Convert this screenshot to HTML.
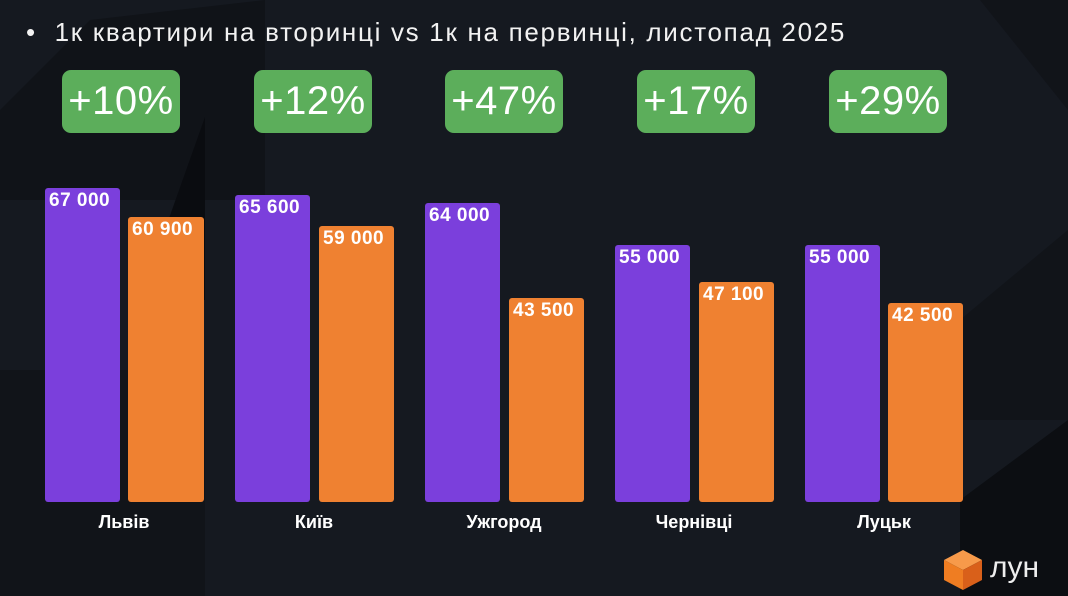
<!DOCTYPE html>
<html><head><meta charset="utf-8"><style>
body{margin:0;width:1068px;height:596px;overflow:hidden;background:#151920;font-family:"Liberation Sans","DejaVu Sans",sans-serif;position:relative}
.a{position:absolute}
.t{left:26px;top:17px;color:#f2f2f2;font-size:26px;letter-spacing:1.7px;white-space:nowrap}
.b{background:#5cae5b;border-radius:9px;color:#fff;font-size:40px;text-align:center;line-height:63px;height:63px;width:118px;top:70px;letter-spacing:0.5px}
.p{background:#7b3fdc;border-radius:3px}
.o{background:#ef8131;border-radius:3px}
.v{color:#fff;font-weight:bold;font-size:19px;letter-spacing:0.5px;padding:2px 0 0 4px;white-space:nowrap;box-sizing:border-box}
.l{color:#fff;font-weight:bold;font-size:18px;top:512px;width:160px;text-align:center}
</style></head><body>
<svg class="a" style="left:0;top:0" width="1068" height="596">
<polygon points="0,110 90,20 265,0 265,200 0,200" fill="#101318"/>
<polygon points="0,370 205,370 205,596 0,596" fill="#111419"/>
<polygon points="140,300 205,117 205,300" fill="#0a0c10"/>
<polygon points="980,0 1068,0 1068,110" fill="#111419"/>
<polygon points="960,320 1068,230 1068,420 960,420" fill="#111419"/>
<polygon points="960,500 1068,420 1068,596 960,596" fill="#0c0e12"/>
</svg>
<div class="a t">•&nbsp; 1к квартири на вторинці vs 1к на первинці, листопад 2025</div>
<div class="a b" style="left:62px">+10%</div>
<div class="a b" style="left:254px">+12%</div>
<div class="a b" style="left:445px">+47%</div>
<div class="a b" style="left:637px">+17%</div>
<div class="a b" style="left:829px">+29%</div>

<div class="a p v" style="left:45px;top:188px;width:75px;height:314px">67 000</div>
<div class="a o v" style="left:128px;top:217px;width:76px;height:285px">60 900</div>
<div class="a p v" style="left:235px;top:195px;width:75px;height:307px">65 600</div>
<div class="a o v" style="left:319px;top:226px;width:75px;height:276px">59 000</div>
<div class="a p v" style="left:425px;top:203px;width:75px;height:299px">64 000</div>
<div class="a o v" style="left:509px;top:298px;width:75px;height:204px">43 500</div>
<div class="a p v" style="left:615px;top:245px;width:75px;height:257px">55 000</div>
<div class="a o v" style="left:699px;top:282px;width:75px;height:220px">47 100</div>
<div class="a p v" style="left:805px;top:245px;width:75px;height:257px">55 000</div>
<div class="a o v" style="left:888px;top:303px;width:75px;height:199px">42 500</div>

<div class="a l" style="left:44px">Львів</div>
<div class="a l" style="left:234px">Київ</div>
<div class="a l" style="left:424px">Ужгород</div>
<div class="a l" style="left:614px">Чернівці</div>
<div class="a l" style="left:804px">Луцьк</div>

<svg class="a" style="left:942px;top:548px" width="42" height="44">
<polygon points="21,2 40,12 21,22 2,12" fill="#f79a4a"/>
<polygon points="2,12 21,22 21,42 2,32" fill="#ef7d22"/>
<polygon points="21,22 40,12 40,32 21,42" fill="#d9601a"/>
</svg>
<div class="a" style="left:990px;top:551px;color:#eee;font-size:30px">лун</div>
</body></html>
